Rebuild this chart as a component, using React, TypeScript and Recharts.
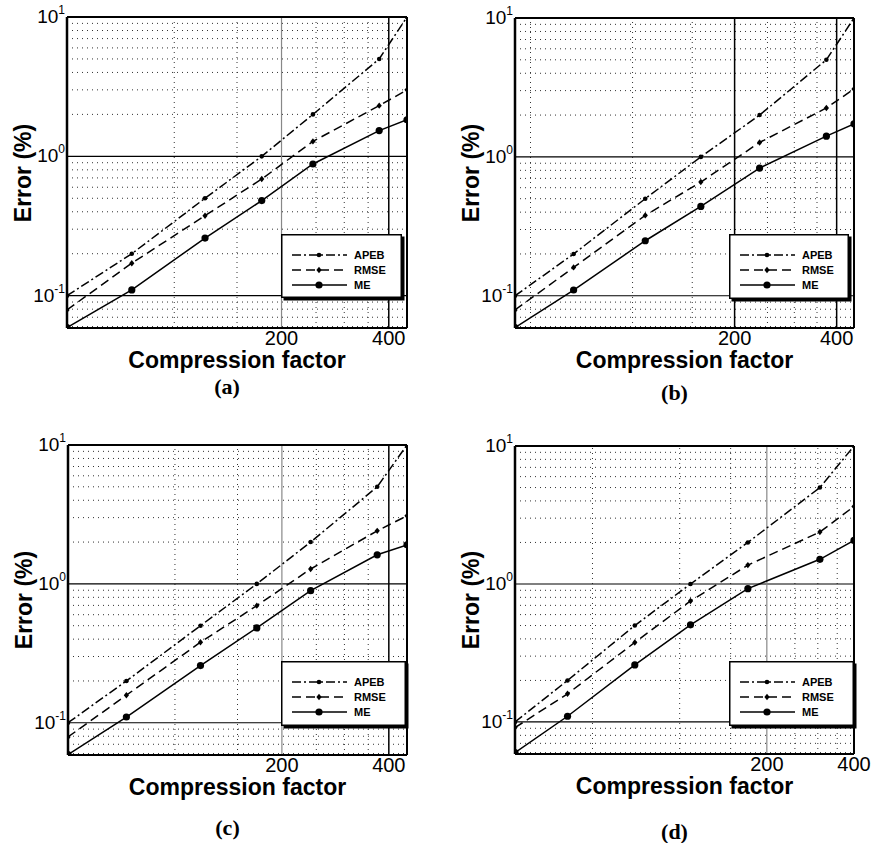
import React from 'react';
import { LineChart, Line, XAxis, YAxis, ReferenceLine, Legend } from 'recharts';

// APEB is the requested bound, same in every panel
const apeb = [0.1, 0.2, 0.5, 1, 2, 5, 10];

// (a)
const factorsA = [50, 76, 122, 176, 245, 376, 450];
const rmseA = [0.079, 0.171, 0.375, 0.687, 1.28, 2.31, 3.0];
const meA = [0.059, 0.11, 0.259, 0.481, 0.881, 1.53, 1.83];

// (b)
const factorsB = [45, 67, 109, 159, 237, 373, 450];
const rmseB = [0.079, 0.16, 0.379, 0.659, 1.27, 2.25, 3.08];
const meB = [0.059, 0.11, 0.249, 0.44, 0.831, 1.41, 1.73];

// (c)
const factorsC = [50, 73, 118, 170, 241, 371, 450];
const rmseC = [0.079, 0.158, 0.38, 0.697, 1.28, 2.41, 3.09];
const meC = [0.059, 0.11, 0.258, 0.482, 0.893, 1.62, 1.91];

// (d)
const factorsD = [27, 41, 70, 109, 172, 305, 400];
const rmseD = [0.091, 0.16, 0.377, 0.753, 1.37, 2.38, 3.65];
const meD = [0.06, 0.11, 0.259, 0.506, 0.925, 1.51, 2.07];

const xTicks = [200, 400];
const yTicks = [0.1, 1, 10];
const yMinor = [0.06, 0.07, 0.08, 0.09, 0.2, 0.3, 0.4, 0.5, 0.6, 0.7, 0.8, 0.9, 2, 3, 4, 5, 6, 7, 8, 9];
const yMajor = [0.1, 1];

const SANS = '"Liberation Sans", Arial, sans-serif';
const W = 436;
const H = 420;

const YTick = (props: any) => {
  const { x, y, payload } = props;
  const e = Math.round(Math.log10(payload.value));
  return (
    <text x={x} y={y + 6} textAnchor="end" fontFamily={SANS} fontSize={19} fill="#000">
      10<tspan dy={-9} fontSize={12}>{e}</tspan>
    </text>
  );
};

const XTick = (props: any) => {
  const { x, y, payload } = props;
  return (
    <text x={x} y={y + 17} textAnchor="middle" fontFamily={SANS} fontSize={20} fill="#000">
      {payload.value}
    </text>
  );
};

const smallDot = (p: any) => <circle key={`a${p.index}`} cx={p.cx} cy={p.cy} r={2.3} fill="#000" />;
const diamondDot = (p: any) => (
  <path
    key={`r${p.index}`}
    d={`M${p.cx},${p.cy - 3.2}L${p.cx + 2.6},${p.cy}L${p.cx},${p.cy + 3.2}L${p.cx - 2.6},${p.cy}Z`}
    fill="#000"
  />
);
const bigDot = (p: any) => <circle key={`m${p.index}`} cx={p.cx} cy={p.cy} r={3.6} fill="#000" />;

const series = [
  { key: 'apeb', name: 'APEB', dash: '9 3 2 3', dot: smallDot },
  { key: 'rmse', name: 'RMSE', dash: '9 5', dot: diamondDot },
  { key: 'me', name: 'ME', dash: undefined, dot: bigDot },
];

const LegendBox = ({ w, h }: { w: number; h: number }) => {
  const rows = [21, 36, 51];
  return (
    <svg width={w + 3} height={h + 3} style={{ display: 'block' }}>
      <rect x={2.5} y={2.5} width={w} height={h} fill="#000" />
      <rect x={0.75} y={0.75} width={w - 1.5} height={h - 1.5} fill="#fff" stroke="#000" strokeWidth={1.5} />
      {series.map((s, i) => {
        const cy = rows[i];
        return (
          <g key={s.key}>
            <line x1={11} x2={66} y1={cy} y2={cy} stroke="#000" strokeWidth={1.5} strokeDasharray={s.dash} />
            {s.dot({ cx: 38, cy, index: i })}
            <text x={73} y={cy + 4} fontFamily={SANS} fontSize={11} fontWeight="bold" fill="#000">
              {s.name}
            </text>
          </g>
        );
      })}
    </svg>
  );
};

interface PanelProps {
  left: number;
  top: number;
  factors: number[];
  rmse: number[];
  me: number[];
  xDomain: [number, number];
  box: { l: number; t: number; r: number; b: number };
  minorX: number[];
  greyX: number[];
  darkX: number[];
  leg: { x: number; y: number; w: number; h: number };
  caption: string;
  capY: number;
}

const Panel = (p: PanelProps) => {
  const rows = p.factors.map((x, i) => ({ x, apeb: apeb[i], rmse: p.rmse[i], me: p.me[i] }));
  const { l, t, r, b } = p.box;
  return (
    <div style={{ position: 'absolute', left: p.left, top: p.top, width: W, height: H }}>
      <LineChart
        width={W}
        height={H}
        data={rows}
        margin={{ top: t, right: W - r, left: l - 50, bottom: H - b - 30 }}
      >
        <XAxis
          dataKey="x"
          type="number"
          scale="log"
          domain={p.xDomain}
          allowDataOverflow
          ticks={xTicks}
          interval={0}
          tick={<XTick />}
          tickSize={0}
          tickMargin={0}
          height={30}
          axisLine={{ stroke: '#000', strokeWidth: 2 }}
        />
        <YAxis
          type="number"
          scale="log"
          domain={[0.0586, 10]}
          allowDataOverflow
          ticks={yTicks}
          interval={0}
          tick={<YTick />}
          tickSize={0}
          tickMargin={2}
          width={50}
          axisLine={{ stroke: '#000', strokeWidth: 2.5 }}
        />
        {yMinor.map((v) => (
          <ReferenceLine key={`ym${v}`} y={v} stroke="#333" strokeDasharray="1 4" />
        ))}
        {p.minorX.map((v) => (
          <ReferenceLine key={`xm${v}`} x={v} stroke="#333" strokeDasharray="1 4" />
        ))}
        {yMajor.map((v) => (
          <ReferenceLine key={`yM${v}`} y={v} stroke="#000" strokeWidth={1.2} />
        ))}
        {p.greyX.map((v) => (
          <ReferenceLine key={`xg${v}`} x={v} stroke="#888" strokeWidth={1.2} />
        ))}
        {p.darkX.map((v) => (
          <ReferenceLine key={`xd${v}`} x={v} stroke="#000" strokeWidth={1.5} />
        ))}
        <ReferenceLine y={10} stroke="#000" strokeWidth={2} />
        <ReferenceLine x={p.xDomain[1]} stroke="#000" strokeWidth={2} />
        {series.map((s) => (
          <Line
            key={s.key}
            dataKey={s.key}
            name={s.name}
            stroke="#000"
            strokeWidth={1.5}
            strokeDasharray={s.dash}
            dot={s.dot}
            activeDot={false}
            isAnimationActive={false}
          />
        ))}
        <Legend
          layout="vertical"
          align="center"
          verticalAlign="middle"
          content={() => <LegendBox w={p.leg.w} h={p.leg.h} />}
          wrapperStyle={{ left: p.leg.x, top: p.leg.y, width: p.leg.w + 3, height: p.leg.h + 3, lineHeight: 0 }}
        />
      </LineChart>
      <div
        style={{
          position: 'absolute',
          left: l - 44,
          top: (t + b) / 2,
          transform: 'translate(-50%, -50%) rotate(-90deg)',
          whiteSpace: 'nowrap',
          fontFamily: SANS,
          fontWeight: 'bold',
          fontSize: 23,
          lineHeight: '26px',
        }}
      >
        Error (%)
      </div>
      <div
        style={{
          position: 'absolute',
          left: (l + r) / 2,
          top: b + 32,
          transform: 'translate(-50%, -50%)',
          whiteSpace: 'nowrap',
          fontFamily: SANS,
          fontWeight: 'bold',
          fontSize: 23,
          lineHeight: '26px',
        }}
      >
        Compression factor
      </div>
      <div
        style={{
          position: 'absolute',
          left: (l + r) / 2 - 10,
          top: p.capY,
          transform: 'translate(-50%, -50%)',
          whiteSpace: 'nowrap',
          fontFamily: '"Liberation Serif", "Times New Roman", serif',
          fontWeight: 'bold',
          fontSize: 22,
          lineHeight: '24px',
        }}
      >
        {p.caption}
      </div>
    </div>
  );
};

export default function App() {
  return (
    <div style={{ position: 'absolute', left: 0, top: 0, width: 872, height: 843, background: '#fff' }}>
      <Panel
        left={0}
        top={0}
        factors={factorsA}
        rmse={rmseA}
        me={meA}
        xDomain={[50, 450]}
        box={{ l: 67, t: 17, r: 407, b: 328 }}
        minorX={[100, 150, 250, 300, 350]}
        greyX={[200]}
        darkX={[400]}
        leg={{ x: 281, y: 234, w: 121, h: 64 }}
        caption="(a)"
        capY={387}
      />
      <Panel
        left={436}
        top={0}
        factors={factorsB}
        rmse={rmseB}
        me={meB}
        xDomain={[45, 450]}
        box={{ l: 79, t: 18, r: 418, b: 328 }}
        minorX={[50, 100, 150, 250, 300, 350]}
        greyX={[]}
        darkX={[200, 400]}
        leg={{ x: 293, y: 234, w: 120, h: 65 }}
        caption="(b)"
        capY={393}
      />
      <Panel
        left={0}
        top={420}
        factors={factorsC}
        rmse={rmseC}
        me={meC}
        xDomain={[50, 450]}
        box={{ l: 68, t: 25, r: 407, b: 335 }}
        minorX={[100, 150, 250, 300, 350]}
        greyX={[200]}
        darkX={[400]}
        leg={{ x: 281, y: 241, w: 125, h: 65 }}
        caption="(c)"
        capY={408}
      />
      <Panel
        left={436}
        top={420}
        factors={factorsD}
        rmse={rmseD}
        me={meD}
        xDomain={[27, 400]}
        box={{ l: 79, t: 26, r: 418, b: 334 }}
        minorX={[50, 100, 150, 250, 300, 350]}
        greyX={[200]}
        darkX={[]}
        leg={{ x: 293, y: 241, w: 125, h: 65 }}
        caption="(d)"
        capY={412}
      />
    </div>
  );
}
